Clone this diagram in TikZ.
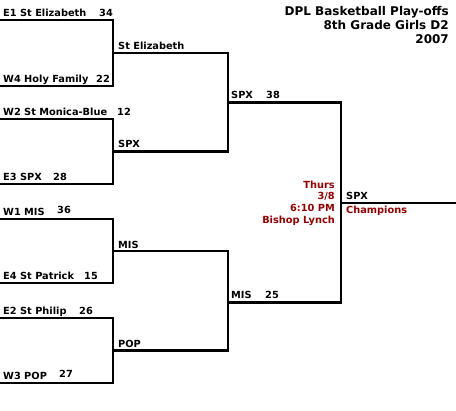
\documentclass[tikz,border=0pt]{standalone}
\usepackage{fontspec}
\setmainfont{DejaVu Sans}
\definecolor{dred}{HTML}{990000}
\begin{document}
\begin{tikzpicture}[x=1pt,y=-1pt,
  lbl/.style={anchor=base west,inner sep=0pt,font=\bfseries\fontsize{9.8}{11}\selectfont},
  rlbl/.style={anchor=base east,inner sep=0pt,font=\bfseries\fontsize{9.8}{11}\selectfont,text=dred},
  ttl/.style={anchor=base east,inner sep=0pt,font=\bfseries\fontsize{12}{14}\selectfont},
  br/.style={line width=2.2pt,line cap=rect}]
\useasboundingbox (0,0) rectangle (456,411);
% round 1 coordinates
\foreach \n/\yy in {a/20,b/86,c/119,d/184,e/219,f/283,g/318,h/383}{
  \coordinate (l\n) at (-2,\yy); \coordinate (r\n) at (113,\yy);}
\foreach \n/\yy in {ab/53,cd/151.5,ef/251,gh/350.5}{
  \coordinate (s\n) at (113,\yy); \coordinate (t\n) at (228,\yy);}
\foreach \n/\yy in {top/102.5,bot/302.5}{
  \coordinate (u\n) at (228,\yy); \coordinate (v\n) at (341,\yy);}
\coordinate (fin) at (341,203);
\coordinate (fend) at (458,203);
% brackets
\draw[br] (la) -- (ra) -- (rb) -- (lb);
\draw[br] (lc) -- (rc) -- (rd) -- (ld);
\draw[br] (le) -- (re) -- (rf) -- (lf);
\draw[br] (lg) -- (rg) -- (rh) -- (lh);
\draw[br] (sab) -- (tab) -- (tcd) -- (scd);
\draw[br] (sef) -- (tef) -- (tgh) -- (sgh);
\draw[br] (utop) -- (vtop) -- (vbot) -- (ubot);
\draw[br] (fin) -- (fend);
% round 1 labels
\node[lbl] (n1) at (3,17) {E1 St Elizabeth};
\node[lbl] (s1) at (99,17) {34};
\node[lbl] (n2) at (3,83) {W4 Holy Family};
\node[lbl] (s2) at (96,83) {22};
\node[lbl] (n3) at (3,116) {W2 St Monica-Blue};
\node[lbl] (s3) at (117,116) {12};
\node[lbl] (n4) at (3,181) {E3 SPX};
\node[lbl] (s4) at (53,181) {28};
\node[lbl] (n5) at (3,216) {W1 MIS};
\node[lbl] (s5) at (57,214) {36};
\node[lbl] (n6) at (3,280) {E4 St Patrick};
\node[lbl] (s6) at (84,280) {15};
\node[lbl] (n7) at (3,315) {E2 St Philip};
\node[lbl] (s7) at (79,315) {26};
\node[lbl] (n8) at (3,380) {W3 POP};
\node[lbl] (s8) at (59,378) {27};
% round 2 labels
\node[lbl] (m1) at (118,50) {St Elizabeth};
\node[lbl] (m2) at (118,148) {SPX};
\node[lbl] (m3) at (118,249) {MIS};
\node[lbl] (m4) at (118,348) {POP};
% round 3 labels
\node[lbl] (q1) at (231,99) {SPX};
\node[lbl] (q1s) at (266,99) {38};
\node[lbl] (q2) at (231,299) {MIS};
\node[lbl] (q2s) at (265,299) {25};
% final
\node[lbl] (w) at (346,200) {SPX};
\node[lbl,text=dred] (ch) at (346,214) {Champions};
\node[rlbl] (i1) at (335,189) {Thurs};
\node[rlbl] (i2) at (335,200) {3/8};
\node[rlbl] (i3) at (335,212) {6:10 PM};
\node[rlbl] (i4) at (335,224) {Bishop Lynch};
% title
\node[ttl] (t1) at (449,16) {DPL Basketball Play-offs};
\node[ttl] (t2) at (449,30) {8th Grade Girls D2};
\node[ttl] (t3) at (449,44) {2007};
\end{tikzpicture}
\end{document}
